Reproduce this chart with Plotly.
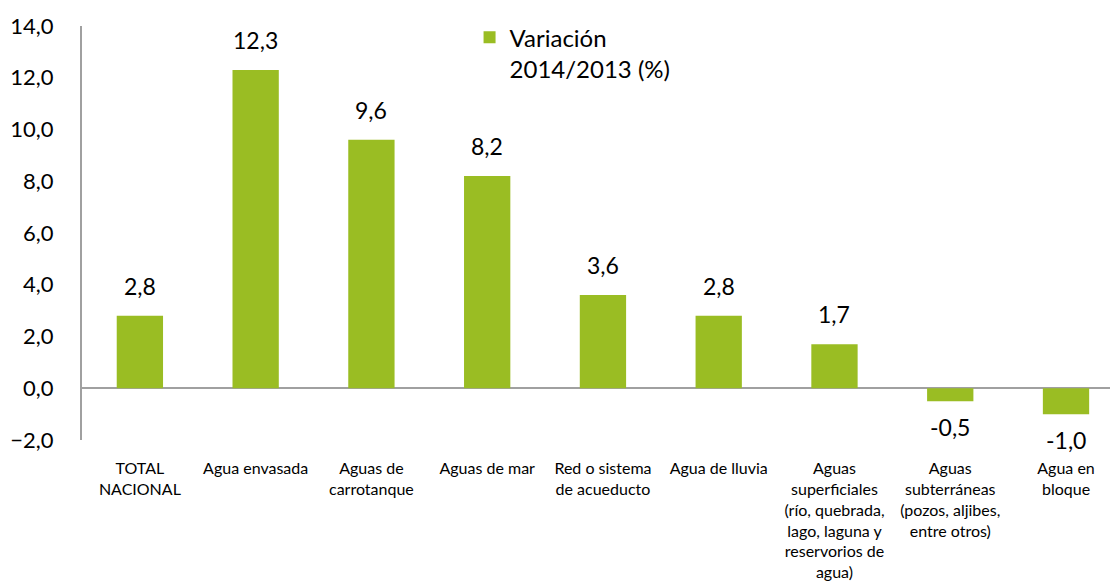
import plotly.graph_objects as go

categories = [
    "TOTAL<br>NACIONAL",
    "Agua envasada",
    "Aguas de<br>carrotanque",
    "Aguas de mar",
    "Red o sistema<br>de acueducto",
    "Agua de lluvia",
    "Aguas<br>superficiales<br>(río, quebrada,<br>lago, laguna y<br>reservorios de<br>agua)",
    "Aguas<br>subterráneas<br>(pozos, aljibes,<br>entre otros)",
    "Agua en<br>bloque",
]
variacion = [2.8, 12.3, 9.6, 8.2, 3.6, 2.8, 1.7, -0.5, -1.0]
series_name = "Variación<br>2014/2013 (%)"
y_ticks = [-2, 0, 2, 4, 6, 8, 10, 12, 14]

FONT = "Lato"
GREEN = "#9abd23"

fig = go.Figure()
fig.add_trace(go.Bar(
    x=categories,
    y=variacion,
    name=series_name,
    marker=dict(color=GREEN, line=dict(width=0)),
    showlegend=True,
))

# value labels placed above positive bars and below negative bars
for cat, v in zip(categories, variacion):
    fig.add_annotation(
        x=cat, y=v,
        text=f"{v:.1f}".replace(".", ","),
        showarrow=False,
        yanchor="bottom" if v >= 0 else "top",
        yshift=14 if v >= 0 else -10,
        font=dict(family=FONT, size=23, color="#000000"),
    )

fig.update_layout(
    width=1110, height=587,
    margin=dict(l=82, r=0, t=26, b=147),
    paper_bgcolor="white",
    plot_bgcolor="white",
    separators=",.",
    bargap=0.6,
    font=dict(family=FONT, color="#000000"),
    legend=dict(
        x=0.377, y=1.026, xanchor="left", yanchor="top",
        font=dict(family=FONT, size=24, color="#000000"),
        valign="top",
        bgcolor="rgba(0,0,0,0)",
        itemwidth=30,
    ),
    xaxis=dict(
        type="category",
        range=[-0.5, 8.38],
        showline=False,
        showgrid=False,
        zeroline=False,
        ticks="outside", ticklen=14, tickcolor="rgba(0,0,0,0)",
        tickfont=dict(family=FONT, size=16, color="#000000"),
        tickangle=0,
    ),
    yaxis=dict(
        range=[-2, 14],
        tickvals=y_ticks,
        tickformat=".1f",
        showgrid=False,
        showline=True, linecolor="#a0a0a0", linewidth=2,
        zeroline=True, zerolinecolor="#a0a0a0", zerolinewidth=2,
        ticks="outside", ticklen=22, tickcolor="rgba(0,0,0,0)",
        tickfont=dict(family=FONT, size=22, color="#000000"),
    ),
)

fig.write_html("out.html")
